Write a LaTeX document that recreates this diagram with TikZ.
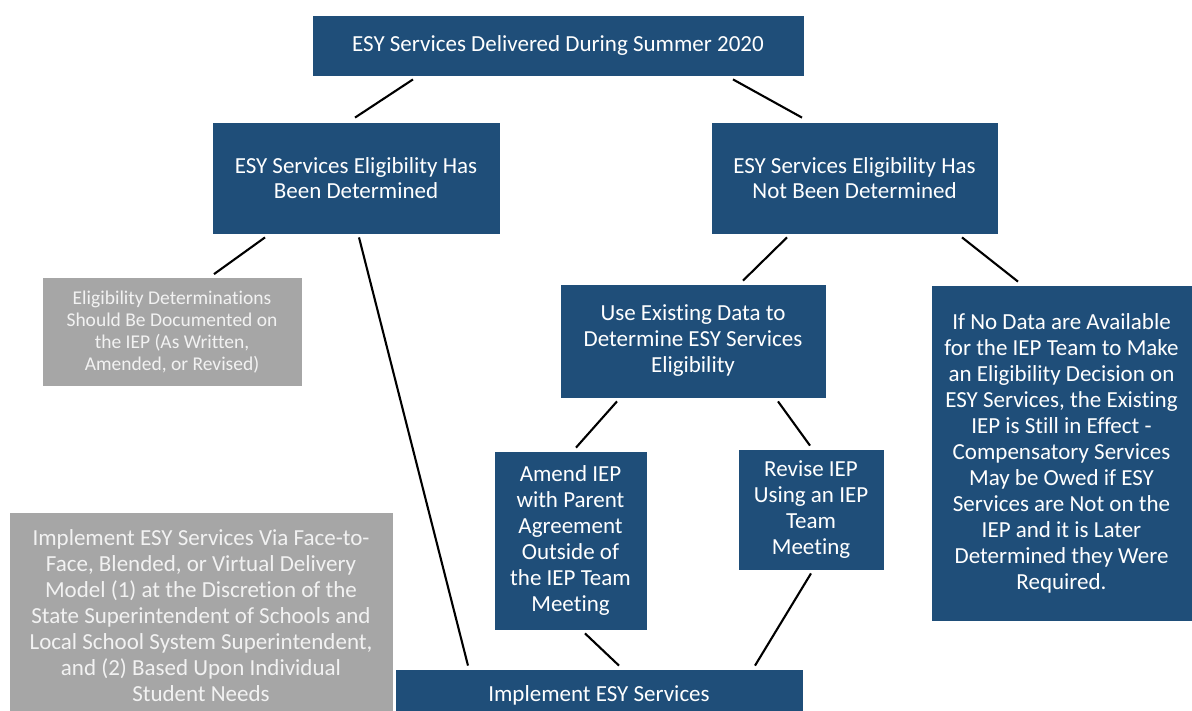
\documentclass[tikz,border=0pt]{standalone}
\usepackage{fontspec}
\setmainfont{Carlito}[Ligatures={NoCommon,NoContextual}]
\definecolor{esyblue}{HTML}{1F4E79}
\definecolor{esygray}{HTML}{A6A6A6}
\definecolor{graytext}{HTML}{F2F2F2}
\begin{document}
\begin{tikzpicture}[x=1pt,y=-1pt,
  box/.style={fill=esyblue, draw=white, line width=0.8pt, text=white, align=center, inner sep=0pt, font=\fontsize{23}{26}\selectfont},
  graybox/.style={box, fill=esygray, text=graytext},
  link/.style={draw=black, line width=2.1pt}]
\useasboundingbox (0,0) rectangle (1192,710);
\clip (0,0) rectangle (1192,710);
\node[box, minimum width=492pt, minimum height=61pt] (top) at (558,45.5) {ESY Services Delivered During Summer 2020};
\node[box, minimum width=288pt, minimum height=112pt, font=\fontsize{23}{25}\selectfont] (det) at (356,178) {ESY Services Eligibility Has\\Been Determined};
\node[box, minimum width=287pt, minimum height=112pt, font=\fontsize{23}{25}\selectfont] (notdet) at (854.5,178) {ESY Services Eligibility Has\\Not Been Determined};
\node[graybox, minimum width=260pt, minimum height=109pt, font=\fontsize{19.5}{22}\selectfont] (doc) at (172,332) {Eligibility Determinations\\Should Be Documented on\\the IEP (As Written,\\Amended, or Revised)};
\node[box, minimum width=266pt, minimum height=114pt] (use) at (693,341) {Use Existing Data to\\Determine ESY Services\\Eligibility};
\node[box, minimum width=261pt, minimum height=336pt] (nodata) at (1061.5,453) {If No Data are Available\\for the IEP Team to Make\\an Eligibility Decision on\\ESY Services, the Existing\\IEP is Still in Effect -\\Compensatory Services\\May be Owed if ESY\\Services are Not on the\\IEP and it is Later\\Determined they Were\\Required.};
\node[box, minimum width=153pt, minimum height=179pt] (amend) at (570.5,540.5) {Amend IEP\\with Parent\\Agreement\\Outside of\\the IEP Team\\Meeting};
\node[box, minimum width=146pt, minimum height=121pt] (revise) at (811,509.5) {Revise IEP\\Using an IEP\\Team\\Meeting};
\node[graybox, minimum width=384pt, minimum height=208pt] (via) at (201,616) {Implement ESY Services Via Face-to-\\Face, Blended, or Virtual Delivery\\Model (1) at the Discretion of the\\State Superintendent of Schools and\\Local School System Superintendent,\\and (2) Based Upon Individual\\Student Needs};
\node[box, minimum width=408pt, minimum height=52pt] (impl) at (599,695) {Implement ESY Services};

\draw[link] ([xshift=-145pt,yshift=-3pt]top.south) -- ([xshift=-1pt,yshift=4pt]det.north);
\draw[link] ([xshift=175pt,yshift=-3pt]top.south) -- ([xshift=-52.5pt,yshift=4pt]notdet.north);
\draw[link] ([xshift=-91pt,yshift=-3pt]det.south) -- ([xshift=42pt,yshift=3pt]doc.north);
\draw[link] ([xshift=3pt,yshift=-3pt]det.south) -- ([xshift=-131pt,yshift=3pt]impl.north);
\draw[link] ([xshift=-67.5pt,yshift=-3pt]notdet.south) -- ([xshift=50pt,yshift=3pt]use.north);
\draw[link] ([xshift=107.5pt,yshift=-3pt]notdet.south) -- ([xshift=-43.5pt,yshift=3pt]nodata.north);
\draw[link] ([xshift=-76pt,yshift=-3pt]use.south) -- ([xshift=5.5pt,yshift=3pt]amend.north);
\draw[link] ([xshift=85pt,yshift=-3pt]use.south) -- ([xshift=-1pt,yshift=3pt]revise.north);
\draw[link] ([xshift=14.5pt,yshift=-3pt]amend.south) -- ([xshift=20pt,yshift=3pt]impl.north);
\draw[link] ([xshift=0pt,yshift=-3pt]revise.south) -- ([xshift=156pt,yshift=3pt]impl.north);
\end{tikzpicture}
\end{document}
